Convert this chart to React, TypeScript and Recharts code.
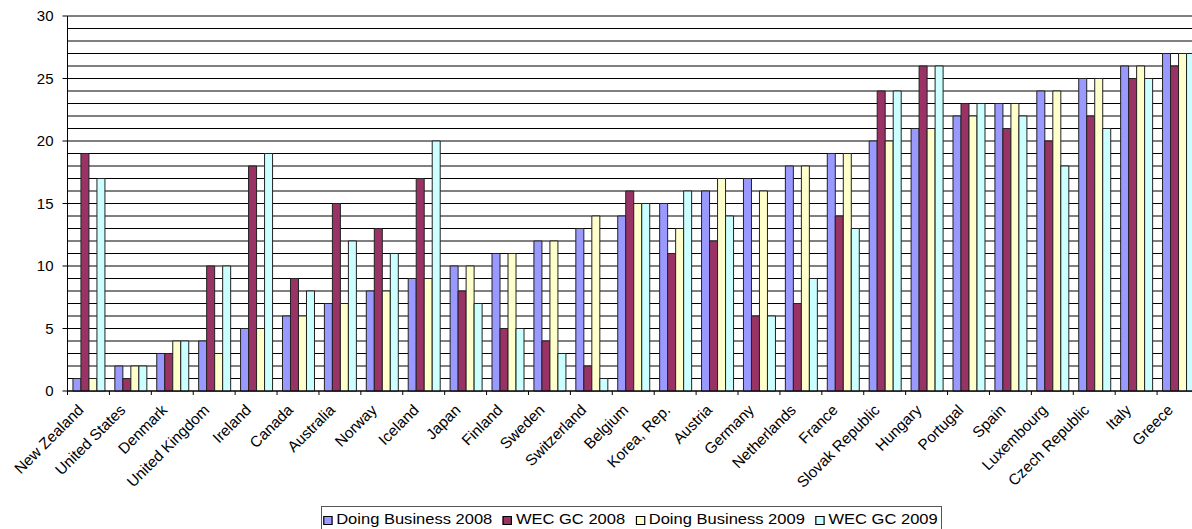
import { BarChart, Bar, XAxis, YAxis, CartesianGrid } from "recharts";

const countries = [
  "New Zealand", "United States", "Denmark", "United Kingdom", "Ireland",
  "Canada", "Australia", "Norway", "Iceland", "Japan", "Finland", "Sweden",
  "Switzerland", "Belgium", "Korea, Rep.", "Austria", "Germany", "Netherlands",
  "France", "Slovak Republic", "Hungary", "Portugal", "Spain", "Luxembourg",
  "Czech Republic", "Italy", "Greece",
];

const doingBusiness2008 = [1, 2, 3, 4, 5, 6, 7, 8, 9, 10, 11, 12, 13, 14, 15, 16, 17, 18, 19, 20, 21, 22, 23, 24, 25, 26, 27];
const wecGc2008 = [19, 1, 3, 10, 18, 9, 15, 13, 17, 8, 5, 4, 2, 16, 11, 12, 6, 7, 14, 24, 26, 23, 21, 20, 22, 25, 26];
const doingBusiness2009 = [1, 2, 4, 3, 5, 6, 7, 8, 9, 10, 11, 12, 14, 15, 13, 17, 16, 18, 19, 20, 21, 22, 23, 24, 25, 26, 27];
const wecGc2009 = [17, 2, 4, 10, 19, 8, 12, 11, 20, 7, 5, 3, 1, 15, 16, 14, 6, 9, 13, 24, 26, 23, 22, 18, 21, 25, 27];

const yTicks = [0, 5, 10, 15, 20, 25, 30];
const gridValues = [0, 1, 2, 3, 4, 5, 6, 7, 8, 9, 10, 11, 12, 13, 14, 15, 16, 17, 18, 19, 20, 21, 22, 23, 24, 25, 26, 27, 28, 29, 30];

const series = [
  { key: "db2008", name: "Doing Business 2008", color: "#9999FF" },
  { key: "wec2008", name: "WEC GC 2008", color: "#993366" },
  { key: "db2009", name: "Doing Business 2009", color: "#FFFFCC" },
  { key: "wec2009", name: "WEC GC 2009", color: "#CCFFFF" },
];

const data = countries.map((country, i) => ({
  country,
  db2008: doingBusiness2008[i],
  wec2008: wecGc2008[i],
  db2009: doingBusiness2009[i],
  wec2009: wecGc2009[i],
}));

const FONT = "Arial, 'Liberation Sans', sans-serif";
const CHART_W = 1199;
const CHART_H = 529;
const MARGIN = { top: 16, right: 0, left: 7.5, bottom: 0 };
const Y_AXIS_W = 60;
const band = (CHART_W - MARGIN.left - Y_AXIS_W - MARGIN.right) / countries.length;

// category label rotated 45°, with the tick mark drawn on the left boundary of the band
const CountryTick = ({ x, y, payload }: any) => {
  const tx = x - 4;
  const ty = y + 20;
  return (
    <g>
      <line x1={x - band / 2} x2={x - band / 2} y1={y} y2={y + 4} stroke="#000" />
      <text
        x={tx}
        y={ty}
        textAnchor="end"
        fontSize={15.3}
        fontFamily={FONT}
        fill="#000"
        transform={`rotate(-45, ${tx}, ${ty})`}
      >
        {payload.value}
      </text>
    </g>
  );
};

// legend text is a little wide, so the row is stretched horizontally
function ChartLegend() {
  return (
    <div
      style={{
        position: "absolute",
        left: 321,
        top: 506,
        width: 621,
        height: 26,
        border: "1px solid #555",
        background: "#fff",
        boxSizing: "border-box",
        overflow: "hidden",
      }}
    >
      <div
        style={{
          display: "flex",
          alignItems: "center",
          height: "100%",
          fontFamily: FONT,
          fontSize: 14,
          color: "#000",
          whiteSpace: "nowrap",
          transform: "scaleX(1.18)",
          transformOrigin: "left center",
          paddingLeft: 1,
        }}
      >
        {series.map((s) => (
          <span key={s.key} style={{ display: "flex", alignItems: "center", marginRight: 9 }}>
            <span
              style={{
                display: "inline-block",
                width: 6,
                height: 7,
                background: s.color,
                border: "1px solid #000",
                marginRight: 3,
                marginTop: 2,
              }}
            />
            {s.name}
          </span>
        ))}
      </div>
    </div>
  );
}

export default function App() {
  return (
    <div style={{ position: "absolute", left: 0, top: 0, width: 1192, height: 529, overflow: "hidden", background: "#fff" }}>
      <BarChart
        width={CHART_W}
        height={CHART_H}
        data={data}
        margin={MARGIN}
        barCategoryGap="13%"
        barGap={0}
      >
        <CartesianGrid vertical={false} horizontalValues={gridValues} stroke="#000" strokeWidth={1} />
        <XAxis
          dataKey="country"
          interval={0}
          height={138}
          tickSize={0}
          tickMargin={0}
          tickLine={false}
          axisLine={{ stroke: "#000" }}
          tick={<CountryTick />}
        />
        <YAxis
          width={Y_AXIS_W}
          domain={[0, 30]}
          ticks={yTicks}
          interval={0}
          tickSize={5}
          tickMargin={9}
          axisLine={{ stroke: "#000" }}
          tickLine={{ stroke: "#000" }}
          tick={{ fill: "#000", fontSize: 15, fontFamily: FONT }}
        />
        {series.map((s) => (
          <Bar
            key={s.key}
            dataKey={s.key}
            name={s.name}
            fill={s.color}
            stroke="#222"
            strokeWidth={1}
            isAnimationActive={false}
          />
        ))}
      </BarChart>
      <ChartLegend />
    </div>
  );
}
